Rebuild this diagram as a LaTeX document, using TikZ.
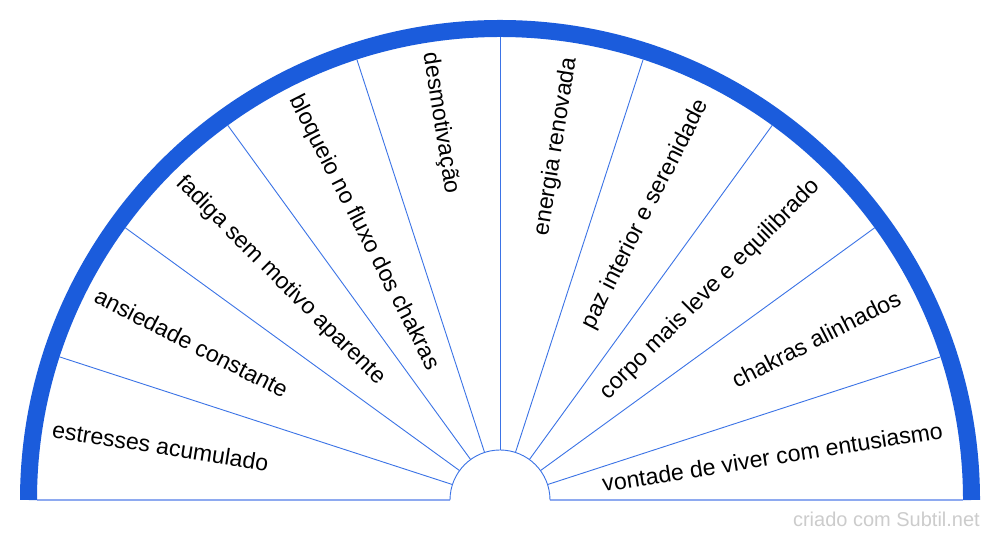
\documentclass[tikz,border=0pt]{standalone}
\usepackage{fontspec}
\setmainfont{Liberation Sans}
\usetikzlibrary{calc}
\definecolor{band}{HTML}{1B5CDC}
\definecolor{spoke}{HTML}{3B73E6}
\definecolor{base}{HTML}{8EAAF0}
\definecolor{wm}{HTML}{CCCCCC}
\begin{document}
\begin{tikzpicture}[x=1pt,y=1pt,
  lbl/.style={font=\fontsize{23.1}{27}\selectfont, inner sep=0pt, text=black},
  spokeline/.style={draw=spoke, line width=0.9pt},
  baseline/.style={draw=base, line width=1.5pt}]
\useasboundingbox (0,0) rectangle (1000,540);
\fill[white] (0,0) rectangle (1000,540);
\coordinate (c) at (500,40);
% baseline and inner arc
\draw[baseline] (37,40) -- (450,40);
\draw[baseline] (550,40) -- (963,40);
\draw[spokeline] (550,40) arc[start angle=0,end angle=180,radius=50];
% spokes
\foreach \a in {18,36,...,162}{
  \draw[spokeline] ($(c)+(\a:50)$) -- ($(c)+(\a:463)$);
}
% outer band
\draw[band, line width=17pt] (971.5,40) arc[start angle=0,end angle=180,radius=471.5];
% labels left side
\foreach \a/\t in {171/estresses acumulado,153/ansiedade constante,135/fadiga sem motivo aparente,117/bloqueio no fluxo dos chakras,99/desmotivação}{
  \node[lbl, anchor=west, rotate=\a+180] at ($(c)+(\a:453)$) {\t};
}
\foreach \a/\t in {81/energia renovada,63/paz interior e serenidade,45/corpo mais leve e equilibrado,27/chakras alinhados,9/vontade de viver com entusiasmo}{
  \node[lbl, anchor=east, rotate=\a] at ($(c)+(\a:448)$) {\t};
}
\node[font=\fontsize{20}{24}\selectfont, text=wm, anchor=base east, inner sep=0pt] (wmk) at (980,13) {criado com Subtil.net};
\end{tikzpicture}
\end{document}
